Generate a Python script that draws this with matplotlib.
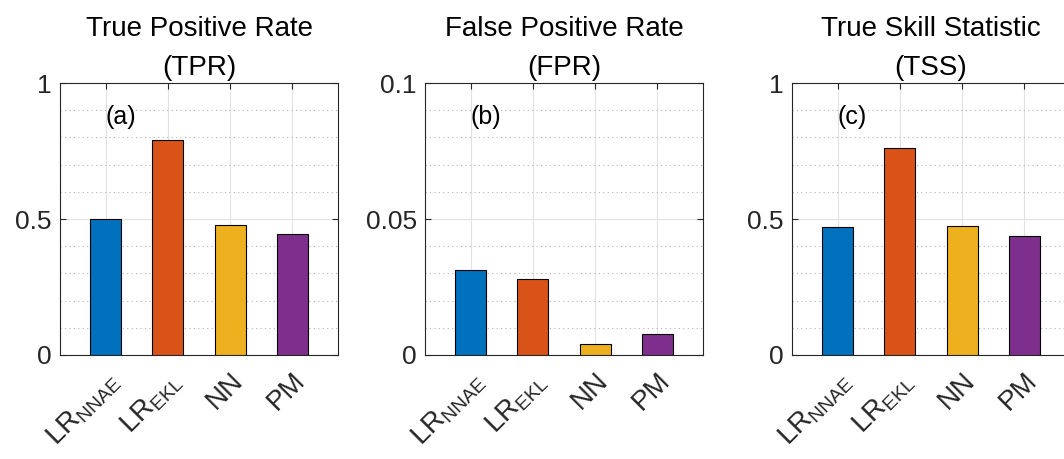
import numpy as np
import matplotlib
matplotlib.use("Agg")
import matplotlib.pyplot as plt
from matplotlib.ticker import MultipleLocator

methods = [r"LR$_{\mathregular{NNAE}}$", r"LR$_{\mathregular{EKL}}$", "NN", "PM"]
tpr = [0.50, 0.789, 0.478, 0.445]
fpr = [0.0311, 0.0278, 0.0042, 0.0076]
tss = [0.469, 0.761, 0.474, 0.436]

titles = ["True Positive Rate\n(TPR)", "False Positive Rate\n(FPR)", "True Skill Statistic\n(TSS)"]
panels = ["(a)", "(b)", "(c)"]
ymax = [1.0, 0.1, 1.0]
yticklabels = [["0", "0.5", "1"], ["0", "0.05", "0.1"], ["0", "0.5", "1"]]

colors = ["#0072BD", "#D95319", "#EDB120", "#7E2F8E"]
dark = "#262626"

plt.rcParams["font.family"] = ["Liberation Sans", "DejaVu Sans"]
plt.rcParams["mathtext.fontset"] = "custom"
plt.rcParams["mathtext.rm"] = "Liberation Sans"
plt.rcParams["mathtext.it"] = "Liberation Sans"

fig = plt.figure(figsize=(10.64, 4.59), dpi=100)
lefts = [60 / 1064, 425 / 1064, 792 / 1064]
x = np.arange(1, 5)

for i, vals in enumerate([tpr, fpr, tss]):
    ax = fig.add_axes([lefts[i], 104 / 459, 278 / 1064, 272 / 459])
    ax.bar(x, vals, width=0.5, color=colors, edgecolor="black", linewidth=0.8, zorder=3)
    ax.set_xlim(0.26, 4.74)
    ax.set_ylim(0, ymax[i])
    ax.set_yticks([0, ymax[i] / 2, ymax[i]])
    ax.set_yticklabels(yticklabels[i])
    ax.yaxis.set_minor_locator(MultipleLocator(ymax[i] / 10))
    ax.set_xticks(x)
    ax.set_xticklabels(methods, rotation=45, ha="right", va="top",
                       rotation_mode="anchor", fontsize=20)
    ax.tick_params(axis="both", which="major", direction="in", length=4,
                   width=0.8, colors=dark, labelsize=19, top=True, right=True)
    ax.tick_params(axis="x", pad=9, labelsize=20)
    ax.tick_params(axis="y", pad=6)
    ax.tick_params(which="minor", length=0, top=False, right=False)
    ax.grid(True, which="major", color="#e2e2e2", linewidth=0.8, zorder=0)
    ax.grid(True, which="minor", axis="y", color="#b5b5b5", linestyle=(0, (1, 3)),
            linewidth=0.8, zorder=0)
    ax.set_axisbelow(True)
    for s in ax.spines.values():
        s.set_color(dark)
        s.set_linewidth(0.8)
    ax.set_title(titles[i], fontsize=20, color="black", pad=6, linespacing=1.65)
    ax.text(1.0, 0.875 * ymax[i], panels[i], fontsize=18, ha="left", va="center")

fig.savefig("out.png", dpi=100)
